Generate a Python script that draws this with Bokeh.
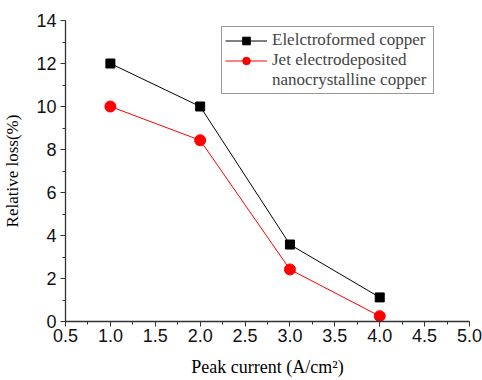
from bokeh.plotting import figure
from bokeh.models import (Range1d, Legend, LegendItem, SingleIntervalTicker,
                          ColumnDataSource, PrintfTickFormatter)
from bokeh.embed import file_html
from bokeh.resources import INLINE

x = [1.0, 2.0, 3.0, 4.0]
electroformed = [12.0, 10.0, 3.58, 1.12]
jet = [10.0, 8.43, 2.42, 0.25]
x_label = "Peak current (A/cm²)"
y_label = "Relative loss(%)"
names = ["Elelctroformed copper", "Jet electrodeposited", "nanocrystalline copper"]

p = figure(width=482, height=380, output_backend="svg", toolbar_location=None,
           x_range=Range1d(0.5, 5.0), y_range=Range1d(0, 14),
           min_border_left=64, min_border_right=13, min_border_top=20, min_border_bottom=59)
p.outline_line_color = None
p.xgrid.visible = False
p.ygrid.visible = False
p.background_fill_color = "white"
p.border_fill_color = "white"

p.xaxis.ticker = SingleIntervalTicker(interval=0.5, num_minor_ticks=2)
p.yaxis.ticker = SingleIntervalTicker(interval=2, num_minor_ticks=2)
p.xaxis.formatter = PrintfTickFormatter(format="%.1f")
p.yaxis.formatter = PrintfTickFormatter(format="%d")

for ax in (p.xaxis, p.yaxis):
    ax.axis_line_color = "#333333"
    ax.axis_line_width = 1.3
    ax.major_tick_line_color = "#333333"
    ax.minor_tick_line_color = "#333333"
    ax.major_tick_out = 5
    ax.major_tick_in = 0
    ax.minor_tick_out = 3
    ax.minor_tick_in = 0
    ax.major_label_text_font = "Liberation Sans"
    ax.major_label_text_font_size = "18px"
    ax.major_label_text_color = "#111111"
    ax.axis_label_text_font = "Liberation Serif"
    ax.axis_label_text_font_style = "normal"
    ax.axis_label_text_color = "black"

p.xaxis.axis_label = x_label
p.yaxis.axis_label = y_label
p.xaxis.axis_label_text_font_size = "18px"
p.yaxis.axis_label_text_font_size = "17px"
p.xaxis.major_label_standoff = 2
p.xaxis.axis_label_standoff = 12
p.yaxis.major_label_standoff = 4
p.yaxis.axis_label_standoff = 11

src1 = ColumnDataSource(dict(x=x, y=electroformed))
src2 = ColumnDataSource(dict(x=x, y=jet))
l1 = p.line("x", "y", source=src1, line_color="black", line_width=1)
m1 = p.scatter("x", "y", source=src1, marker="square", size=9, fill_color="black", line_color="black")
l2 = p.line("x", "y", source=src2, line_color="red", line_width=1)
m2 = p.scatter("x", "y", source=src2, marker="circle", size=11, fill_color="red", line_color="red")
dummy = p.line("x", "y", source=src1, line_alpha=0)

legend = Legend(items=[LegendItem(label=names[0], renderers=[l1, m1]),
                       LegendItem(label=names[1], renderers=[l2, m2]),
                       LegendItem(label=names[2], renderers=[dummy])],
                location=(156, 227))
legend.border_line_color = "#333333"
legend.border_line_width = 1.3
legend.label_text_font = "Liberation Serif"
legend.label_text_font_size = "17px"
legend.label_height = 19
legend.label_width = 158
legend.glyph_height = 19
legend.glyph_width = 42
legend.label_standoff = 5
legend.spacing = 0
legend.padding = 3
legend.margin = 0
legend.background_fill_alpha = 1
p.add_layout(legend)

open("out.html", "w").write(file_html(p, INLINE))
